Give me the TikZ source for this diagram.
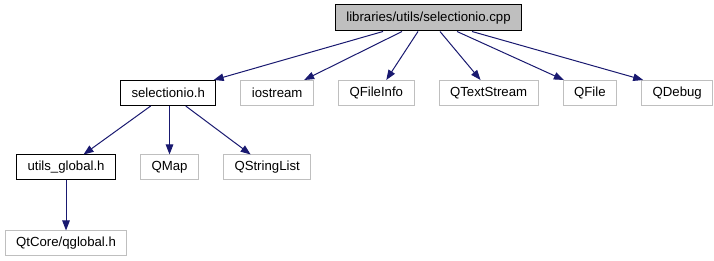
\documentclass[tikz,border=0pt]{standalone}
\usepackage{fontspec}
\setmainfont{Liberation Sans}
\usepackage{tikz}
\usetikzlibrary{arrows.meta,positioning}
\definecolor{inclblue}{HTML}{191970}
\definecolor{sysgray}{HTML}{BFBFBF}

\begin{document}
\begin{tikzpicture}[x=1pt,y=-1pt,->,>={Triangle[length=10pt,width=7.5pt]},
		font=\fontsize{13.2}{15}\selectfont,
		base node/.style={rectangle,draw,line width=1pt,minimum height=25pt,inner xsep=11pt,inner ysep=0pt},
		sys node/.style={base node,draw=sysgray},
		every edge/.style={draw=inclblue,line width=1pt}]
		\useasboundingbox (0,0) rectangle (714,261);

		% the source file and its direct includes
		\node[base node,fill=sysgray,minimum height=26pt] (cpp) at (428.5,18) {libraries/utils/selectionio.cpp};
		\node[base node,anchor=west] (selh) at (120,93) {selectionio.h};
		\node[sys node] (iostream) [right=24pt of selh] {iostream};
		\node[sys node] (qfileinfo) [right=24pt of iostream] {QFileInfo};
		\node[sys node] (qtextstream) [right=24pt of qfileinfo] {QTextStream};
		\node[sys node] (qfile) [right=24pt of qtextstream] {QFile};
		\node[sys node] (qdebug) [right=24pt of qfile] {QDebug};

		% what selectionio.h pulls in
		\node[base node,anchor=west] (uglobal) at (16,167.5) {utils\_global.h};
		\node[sys node] (qmap) [right=24pt of uglobal] {QMap};
		\node[sys node] (qstringlist) [right=24pt of qmap] {QStringList};
		\node[sys node] (qglobal) [below=50pt of uglobal] {QtCore/qglobal.h};

		\path
		([xshift=-45.5pt]cpp.south) edge ([xshift=45.5pt]selh.north)
		([xshift=-26.5pt]cpp.south) edge ([xshift=27pt]iostream.north)
		([xshift=-10.5pt]cpp.south) edge ([xshift=10pt]qfileinfo.north)
		([xshift=11.5pt]cpp.south) edge ([xshift=-8pt]qtextstream.north)
		([xshift=28.5pt]cpp.south) edge ([xshift=-26pt]qfile.north)
		([xshift=43.5pt]cpp.south) edge ([xshift=-34pt]qdebug.north);
		\path
		([xshift=-17.5pt]selh.south) edge ([xshift=17.5pt]uglobal.north)
		(selh.south -| qmap.north) edge (qmap.north)
		([xshift=17.5pt]selh.south) edge ([xshift=-16.5pt]qstringlist.north)
		(uglobal.south) edge (qglobal.north);
\end{tikzpicture}
\end{document}
